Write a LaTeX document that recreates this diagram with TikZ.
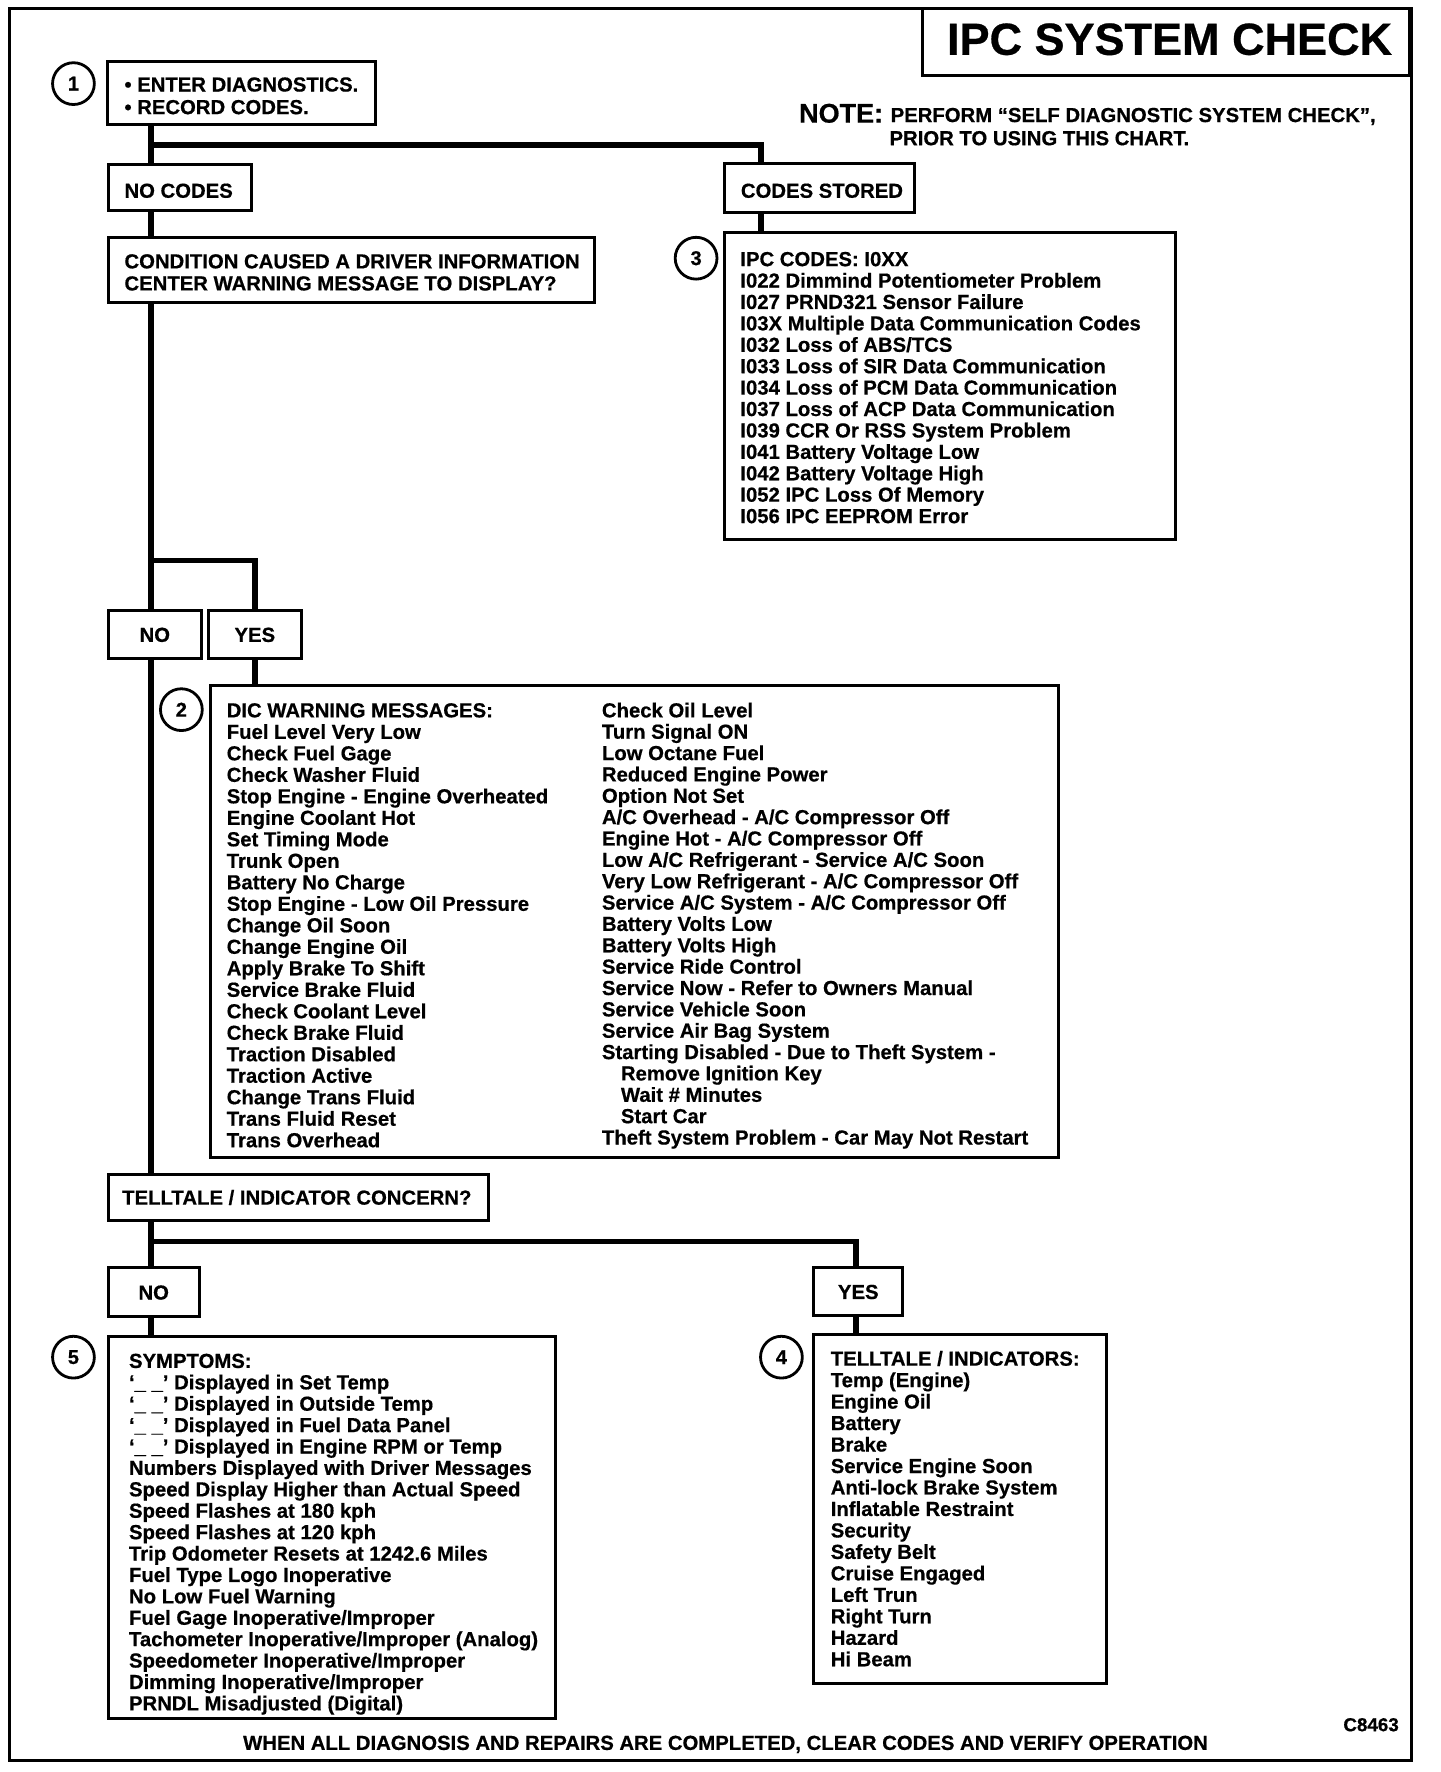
\documentclass[tikz,border=0pt]{standalone}
\usepackage{fontspec}
\setmainfont{Liberation Sans}[BoldFeatures={FakeBold=0.6}]
\usetikzlibrary{fit}
\begin{document}
\begin{tikzpicture}[x=1.13pt,y=-1.13pt,
  boxn/.style={draw, line width=3pt, inner sep=0pt, rectangle},
  conn/.style={line width=5.5pt, line join=miter},
  txt/.style={font=\fontsize{20.3}{22}\selectfont\bfseries, inner sep=0pt, anchor=base west},
  ctxt/.style={txt, anchor=base},
  numc/.style={draw, circle, line width=2.8pt, minimum size=41.8pt, inner sep=0pt, font=\fontsize{20}{20}\selectfont\bfseries}]
\useasboundingbox (0,0) rectangle (1274.3,1568.1);
% frame and title
\node[boxn, fit={(8.5,7.5) (1249,1558)}] (frame) {};
\node[boxn, fit={(816,7.5) (1247,67)}] (titlebox) {};
\node[txt, anchor=base, font=\fontsize{45}{45}\selectfont\bfseries] (title) at (1035,48.5) {IPC SYSTEM CHECK};
\node[txt, font=\fontsize{27}{27}\selectfont\bfseries] (note) at (707,108.5) {NOTE:};
\node[txt] (note1) at (788,108) {PERFORM “SELF DIAGNOSTIC SYSTEM CHECK”,};
\node[txt] (note2) at (787,128.5) {PRIOR TO USING THIS CHART.};
% boxes
\node[boxn, fit={(95,54) (332,110)}] (b1) {};
\node[boxn, fit={(96,145.5) (222.5,186)}] (nocodes) {};
\node[boxn, fit={(641.5,145) (809,188)}] (stored) {};
\node[boxn, fit={(96,210) (526,267.5)}] (cond) {};
\node[boxn, fit={(641.5,206) (1040,477)}] (ipc) {};
\node[boxn, fit={(96,540) (178.5,582.5)}] (no1) {};
\node[boxn, fit={(184.5,540) (267,582.5)}] (yes1) {};
\node[boxn, fit={(186,606.5) (937,1024.5)}] (dic) {};
\node[boxn, fit={(96,1039) (432,1080)}] (tell) {};
\node[boxn, fit={(96,1122) (176.5,1165)}] (no2) {};
\node[boxn, fit={(720,1122) (799,1164)}] (yes2) {};
\node[boxn, fit={(96,1182.5) (491.5,1521)}] (sym) {};
\node[boxn, fit={(719.5,1180.5) (979,1490)}] (ti) {};
% numbered circles
\node[numc] (c1) at (65,74) {1};
\node[numc] (c3) at (616,228.5) {3};
\node[numc] (c2) at (160.5,628) {2};
\node[numc] (c5) at (65,1201) {5};
\node[numc] (c4) at (691.5,1201) {4};
% connectors
\coordinate (trunk) at (133.5,0);
\coordinate (j1) at (133.5,128.3);
\coordinate (j1r) at (673.5,128.3);
\coordinate (j2) at (133.5,496);
\coordinate (j2r) at (225.5,496);
\coordinate (j3) at (133.5,1098.5);
\coordinate (j3r) at (757.5,1098.5);
\draw[conn] (b1.south -| trunk) -- (nocodes.north -| trunk);
\draw[conn] (j1) -| (stored.north -| j1r);
\draw[conn] (stored.south -| j1r) -- (ipc.north -| j1r);
\draw[conn] (nocodes.south -| trunk) -- (cond.north -| trunk);
\draw[conn] (cond.south -| trunk) -- (no1.north -| trunk);
\draw[conn] (j2) -| (yes1.north -| j2r);
\draw[conn] (yes1.south -| j2r) -- (dic.north -| j2r);
\draw[conn] (no1.south -| trunk) -- (tell.north -| trunk);
\draw[conn] (tell.south -| trunk) -- (no2.north -| trunk);
\draw[conn] (j3) -| (yes2.north -| j3r);
\draw[conn] (no2.south -| trunk) -- (sym.north -| trunk);
\draw[conn] (yes2.south -| j3r) -- (ti.north -| j3r);
% box texts
\node[txt] (b1a) at (110,81) {\textbullet\ ENTER DIAGNOSTICS.};
\node[txt] (b1b) at (110,101) {\textbullet\ RECORD CODES.};
\node[txt] (nct) at (110,175) {NO CODES};
\node[txt] (cst) at (655.5,175) {CODES STORED};
\node[txt] (cd1) at (110,237.5) {CONDITION CAUSED A DRIVER INFORMATION};
\node[txt] (cd2) at (110,257) {CENTER WARNING MESSAGE TO DISPLAY?};
\node[ctxt] (no1t) at (137,568) {NO};
\node[ctxt] (yes1t) at (225.5,568) {YES};
\node[txt] (tellt) at (108,1066) {TELLTALE / INDICATOR CONCERN?};
\node[ctxt] (no2t) at (136,1150) {NO};
\node[ctxt] (yes2t) at (759.5,1149.5) {YES};
\foreach \t [count=\i from 0] in {{IPC CODES: I0XX},{I022 Dimmind Potentiometer Problem},{I027 PRND321 Sensor Failure},{I03X Multiple Data Communication Codes},{I032 Loss of ABS/TCS},{I033 Loss of SIR Data Communication},{I034 Loss of PCM Data Communication},{I037 Loss of ACP Data Communication},{I039 CCR Or RSS System Problem},{I041 Battery Voltage Low},{I042 Battery Voltage High},{I052 IPC Loss Of Memory},{I056 IPC EEPROM Error}}
  \node[txt] (ipc\i) at (655,{235.5+18.95*\i}) {\t};
\foreach \t [count=\i from 0] in {{DIC WARNING MESSAGES:},{Fuel Level Very Low},{Check Fuel Gage},{Check Washer Fluid},{Stop Engine - Engine Overheated},{Engine Coolant Hot},{Set Timing Mode},{Trunk Open},{Battery No Charge},{Stop Engine - Low Oil Pressure},{Change Oil Soon},{Change Engine Oil},{Apply Brake To Shift},{Service Brake Fluid},{Check Coolant Level},{Check Brake Fluid},{Traction Disabled},{Traction Active},{Change Trans Fluid},{Trans Fluid Reset},{Trans Overhead}}
  \node[txt] (dicl\i) at (200.5,{634.8+19.02*\i}) {\t};
\foreach \t [count=\i from 0] in {{Check Oil Level},{Turn Signal ON},{Low Octane Fuel},{Reduced Engine Power},{Option Not Set},{A/C Overhead - A/C Compressor Off},{Engine Hot - A/C Compressor Off},{Low A/C Refrigerant - Service A/C Soon},{Very Low Refrigerant - A/C Compressor Off},{Service A/C System - A/C Compressor Off},{Battery Volts Low},{Battery Volts High},{Service Ride Control},{Service Now - Refer to Owners Manual},{Service Vehicle Soon},{Service Air Bag System},{Starting Disabled - Due to Theft System -},{\hspace*{19pt}Remove Ignition Key},{\hspace*{19pt}Wait \# Minutes},{\hspace*{19pt}Start Car},{Theft System Problem - Car May Not Restart}}
  \node[txt] (dicr\i) at (532.5,{634.8+18.9*\i}) {\t};
\foreach \t [count=\i from 0] in {{SYMPTOMS:},{‘\_ \_’ Displayed in Set Temp},{‘\_ \_’ Displayed in Outside Temp},{‘\_ \_’ Displayed in Fuel Data Panel},{‘\_ \_’ Displayed in Engine RPM or Temp},{Numbers Displayed with Driver Messages},{Speed Display Higher than Actual Speed},{Speed Flashes at 180 kph},{Speed Flashes at 120 kph},{Trip Odometer Resets at 1242.6 Miles},{Fuel Type Logo Inoperative},{No Low Fuel Warning},{Fuel Gage Inoperative/Improper},{Tachometer Inoperative/Improper (Analog)},{Speedometer Inoperative/Improper},{Dimming Inoperative/Improper},{PRNDL Misadjusted (Digital)}}
  \node[txt] (sym\i) at (114,{1210.5+18.94*\i}) {\t};
\foreach \t [count=\i from 0] in {{TELLTALE / INDICATORS:},{Temp (Engine)},{Engine Oil},{Battery},{Brake},{Service Engine Soon},{Anti-lock Brake System},{Inflatable Restraint},{Security},{Safety Belt},{Cruise Engaged},{Left Trun},{Right Turn},{Hazard},{Hi Beam}}
  \node[txt] (ti\i) at (735,{1208.5+19*\i}) {\t};
% footer
\node[ctxt] (foot) at (642,1548.5) {WHEN ALL DIAGNOSIS AND REPAIRS ARE COMPLETED, CLEAR CODES AND VERIFY OPERATION};
\node[txt, anchor=base east, font=\fontsize{18.8}{18.8}\selectfont\bfseries] (code) at (1238,1532) {C8463};
\end{tikzpicture}
\end{document}
